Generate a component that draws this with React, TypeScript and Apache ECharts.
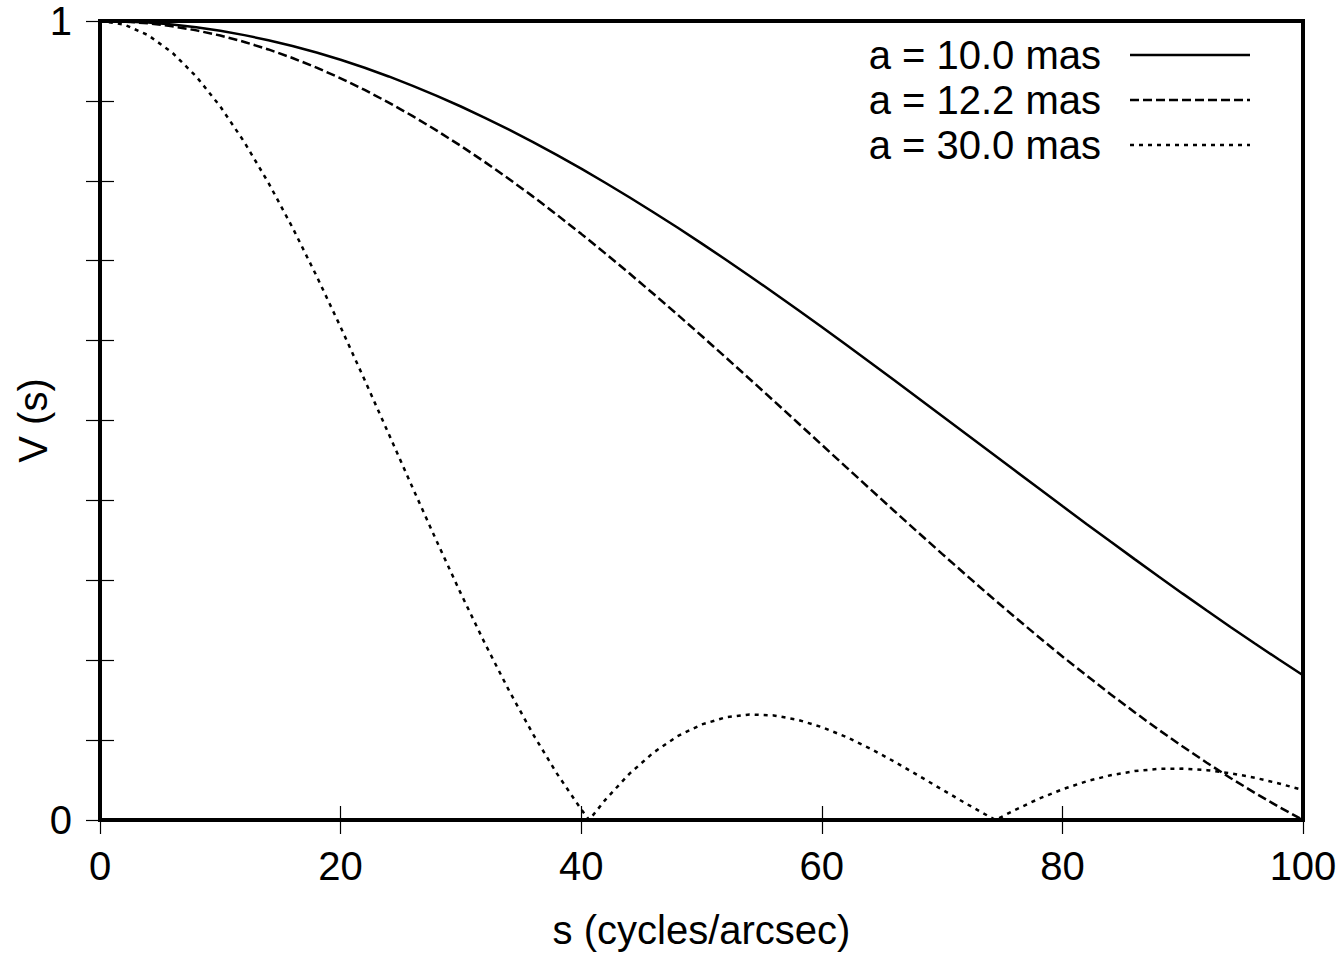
import React, { useEffect, useRef } from "react";
import * as echarts from "echarts";

// s values (cycles/arcsec) at which the curves were read
const sGrid = [
  0, 2, 4, 6, 8, 10, 12, 14, 16, 18, 20, 22, 24, 26, 28, 30, 32, 34, 36, 38, 40,
  42, 44, 46, 48, 50, 52, 54, 56, 58, 60, 62, 64, 66, 68, 70, 72, 74, 76, 78, 80,
  82, 84, 86, 88, 90, 92, 94, 96, 98, 100,
];

// a = 10.0 mas (solid)
const v10 = [
  1, 0.9995, 0.998, 0.9956, 0.9921, 0.9877, 0.9823, 0.976, 0.9688, 0.9606, 0.9515,
  0.9415, 0.9306, 0.9189, 0.9064, 0.893, 0.8789, 0.864, 0.8484, 0.8321, 0.8152,
  0.7976, 0.7794, 0.7607, 0.7415, 0.7217, 0.7015, 0.6809, 0.6599, 0.6386, 0.617,
  0.5951, 0.573, 0.5507, 0.5283, 0.5057, 0.4832, 0.4605, 0.4379, 0.4154, 0.3929,
  0.3706, 0.3485, 0.3265, 0.3048, 0.2833, 0.2622, 0.2413, 0.2209, 0.2008, 0.1812,
];

// a = 12.2 mas (dashed)
const v122 = [
  1, 0.9993, 0.9971, 0.9934, 0.9883, 0.9818, 0.9738, 0.9644, 0.9537, 0.9417, 0.9283,
  0.9137, 0.8979, 0.8809, 0.8628, 0.8436, 0.8234, 0.8022, 0.7802, 0.7573, 0.7336,
  0.7092, 0.6842, 0.6586, 0.6326, 0.6061, 0.5792, 0.552, 0.5247, 0.4972, 0.4696,
  0.442, 0.4145, 0.3871, 0.36, 0.3331, 0.3065, 0.2803, 0.2546, 0.2294, 0.2047,
  0.181, 0.1574, 0.1349, 0.113, 0.0919, 0.0717, 0.0523, 0.0339, 0.0164, 0.0,
];

// a = 30.0 mas (dotted), read with its two zero touches
const s30 = [
  0, 2, 4, 6, 8, 10, 12, 14, 16, 18, 20, 22, 24, 26, 28, 30, 32, 34, 36, 38, 40,
  40.66, 42, 44, 46, 48, 50, 52, 54, 56, 58, 60, 62, 64, 66, 68, 70, 72, 74, 74.44,
  76, 78, 80, 82, 84, 86, 88, 90, 92, 94, 96, 98, 100,
];
const v30 = [
  1, 0.9956, 0.9823, 0.9606, 0.9306, 0.893, 0.8484, 0.7976, 0.7415, 0.6809, 0.617,
  0.5507, 0.4832, 0.4154, 0.3485, 0.2833, 0.2209, 0.162, 0.1073, 0.0577, 0.0133,
  0.0, 0.0252, 0.0578, 0.0843, 0.1049, 0.1195, 0.1285, 0.1321, 0.1309, 0.1254,
  0.1163, 0.1041, 0.0896, 0.0733, 0.0559, 0.0381, 0.0205, 0.0036, 0.0, 0.0121,
  0.0263, 0.0384, 0.0484, 0.056, 0.0612, 0.064, 0.0643, 0.0624, 0.0585, 0.0529,
  0.0457, 0.0375,
];

const legendLabels = ["a = 10.0 mas", "a = 12.2 mas", "a = 30.0 mas"];
const yLabelled = [0, 1];
const xAxisTitle = "s (cycles/arcsec)";
const yAxisTitle = "V (s)";

const FONT = "'Liberation Sans', Arial, Helvetica, sans-serif";
const FS = 40;
const LW = 2.5;
const dashes: (number[] | "solid")[] = ["solid", [9, 4], [4, 5]];

export default function App() {
  const ref = useRef<HTMLDivElement>(null);
  useEffect(() => {
    if (!ref.current) return;
    const chart = echarts.init(ref.current, null, { renderer: "svg" });
    const seriesData = [
      sGrid.map((s, i) => [s, v10[i]]),
      sGrid.map((s, i) => [s, v122[i]]),
      s30.map((s, i) => [s, v30[i]]),
    ];
    const legendY = [55, 100, 145];
    const graphic: any[] = [];
    legendLabels.forEach((lab, i) => {
      graphic.push({
        type: "text",
        x: 1101,
        y: legendY[i],
        style: {
          text: lab,
          fill: "#000",
          font: `${FS}px ${FONT}`,
          align: "right",
          verticalAlign: "middle",
          textAlign: "right",
          textVerticalAlign: "middle",
        },
      });
      graphic.push({
        type: "line",
        shape: { x1: 1130, y1: legendY[i], x2: 1250, y2: legendY[i] },
        style: {
          stroke: "#000",
          lineWidth: LW,
          lineDash: dashes[i] === "solid" ? null : dashes[i],
        },
      });
    });
    const tickStyle = { inside: true, length: 14, lineStyle: { color: "#000", width: 1.2 } };
    const common = {
      type: "value",
      axisLine: { show: false },
      splitLine: { show: false },
      axisTick: tickStyle,
    };
    chart.setOption({
      animation: false,
      backgroundColor: "#fff",
      grid: {
        left: 100,
        top: 21,
        right: 37,
        bottom: 136,
        show: true,
        borderColor: "#000",
        borderWidth: 4,
        backgroundColor: "transparent",
        containLabel: false,
        outerBoundsMode: "none",
      },
      xAxis: [
        {
          ...common,
          position: "bottom",
          min: 0,
          max: 100,
          interval: 20,
          axisLabel: { fontSize: FS, fontFamily: FONT, color: "#000", margin: 26 },
          name: xAxisTitle,
          nameLocation: "middle",
          nameGap: 90,
          nameMoveOverlap: false,
          nameTextStyle: { fontSize: FS, fontFamily: FONT, color: "#000" },
        },
        {
          ...common,
          position: "top",
          min: 0,
          max: 100,
          interval: 20,
          axisLabel: { show: false },
        },
      ],
      yAxis: [
        {
          ...common,
          position: "left",
          min: 0,
          max: 1,
          interval: 0.1,
          axisLabel: {
            fontSize: FS,
            fontFamily: FONT,
            color: "#000",
            margin: 28,
            formatter: (v: number) =>
              yLabelled.some((t) => Math.abs(t - v) < 1e-9) ? String(Math.round(v)) : "",
          },
          name: yAxisTitle,
          nameLocation: "middle",
          nameGap: 47,
          nameRotate: 90,
          nameMoveOverlap: false,
          nameTextStyle: { fontSize: FS, fontFamily: FONT, color: "#000" },
        },
        {
          ...common,
          position: "right",
          min: 0,
          max: 1,
          interval: 0.1,
          axisLabel: { show: false },
        },
      ],
      series: seriesData.map((d, i) => ({
        type: "line",
        name: legendLabels[i],
        data: d,
        symbol: "none",
        showSymbol: false,
        lineStyle: { color: "#000", width: LW, type: dashes[i] },
        z: 2,
      })),
      graphic,
    });
    return () => chart.dispose();
  }, []);
  return (
    <div
      ref={ref}
      style={{ position: "fixed", left: 0, top: 0, width: 1340, height: 956 }}
    />
  );
}
